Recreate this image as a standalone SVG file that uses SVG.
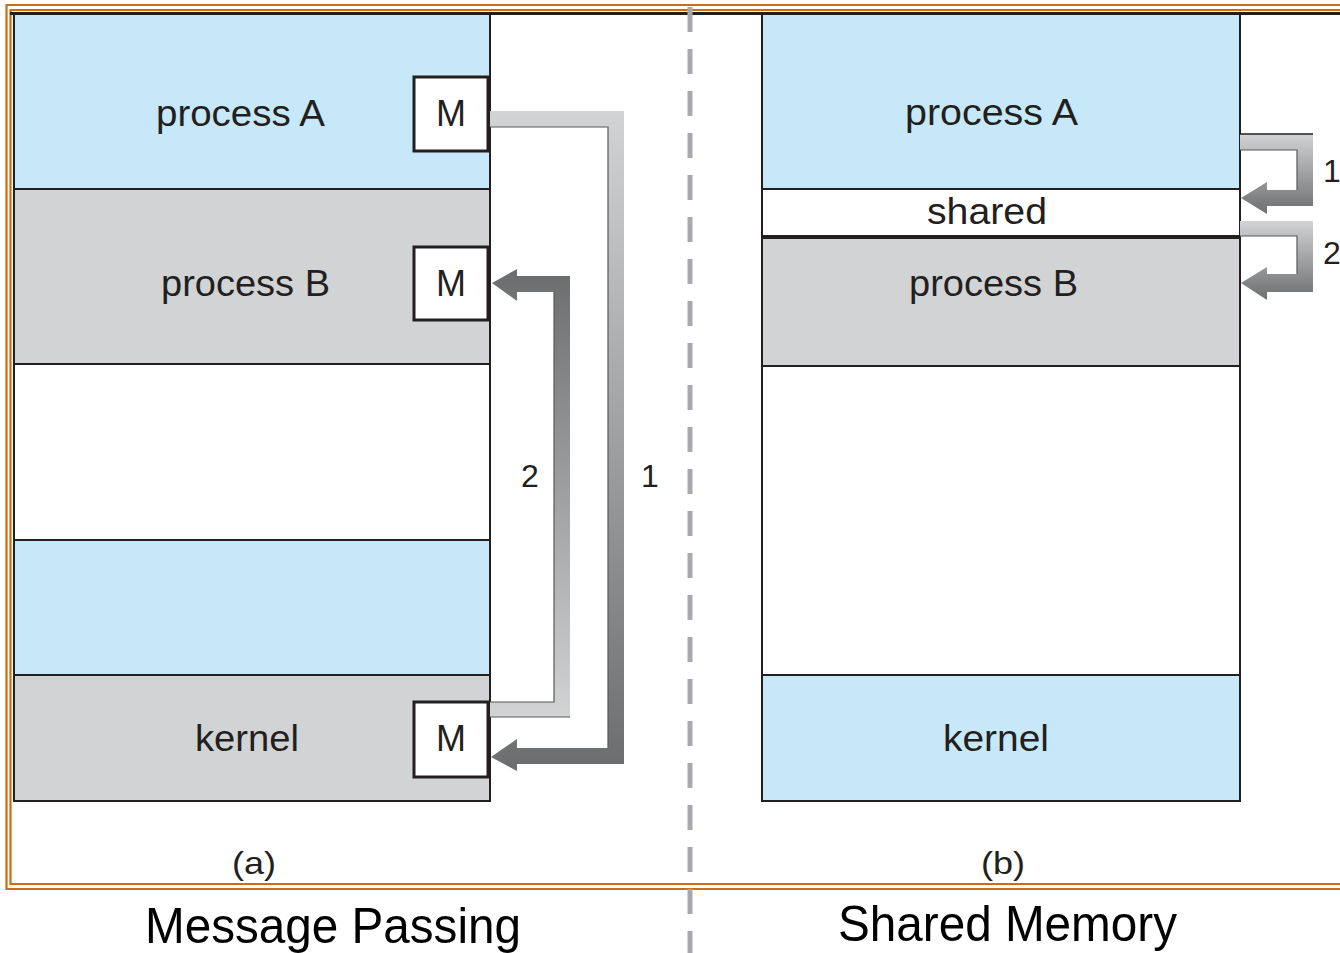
<svg xmlns="http://www.w3.org/2000/svg" width="1340" height="953" viewBox="0 0 1340 953">
<style>
.t{font-family:"Liberation Sans",Arial,sans-serif;fill:#231f20;font-size:36px}
.n{font-family:"Liberation Sans",Arial,sans-serif;fill:#231f20;font-size:32px}
.ttl{font-family:"Liberation Sans",Arial,sans-serif;fill:#000;font-size:50px}
.blue{fill:#c7e8f9;stroke:#231f20;stroke-width:2}
.gray{fill:#d1d3d4;stroke:#231f20;stroke-width:2}
.white{fill:#fff;stroke:#231f20;stroke-width:2}
.mbox{fill:#fff;stroke:#231f20;stroke-width:3}
.edge{fill:none;stroke:#58595b;stroke-width:1.2}
</style>
<defs>
<linearGradient id="g1" gradientUnits="userSpaceOnUse" x1="0" y1="111" x2="0" y2="764">
<stop offset="0" stop-color="#d1d3d4"/><stop offset="1" stop-color="#6d6e70"/>
</linearGradient>
<linearGradient id="g2" gradientUnits="userSpaceOnUse" x1="0" y1="717" x2="0" y2="276">
<stop offset="0" stop-color="#d1d3d4"/><stop offset="1" stop-color="#6d6e70"/>
</linearGradient>
<linearGradient id="g3" gradientUnits="userSpaceOnUse" x1="0" y1="134" x2="0" y2="214">
<stop offset="0" stop-color="#d1d3d4"/><stop offset="1" stop-color="#6d6e70"/>
</linearGradient>
<linearGradient id="g4" gradientUnits="userSpaceOnUse" x1="0" y1="221" x2="0" y2="300">
<stop offset="0" stop-color="#d1d3d4"/><stop offset="1" stop-color="#6d6e70"/>
</linearGradient>
</defs>
<rect width="1340" height="953" fill="#fff"/>
<!-- frame -->
<g id="frame" fill="none" stroke="#d06c0e" stroke-width="2.2">
<polyline points="1345,5 6.5,5 6.5,889 1345,889"/>
<polyline points="1345,10 10.5,10 10.5,884 1345,884"/>
</g>
<line x1="10" y1="13.5" x2="1340" y2="13.5" stroke="#231f20" stroke-width="3"/>

<!-- panel a -->
<g id="a-processA"><rect class="blue" x="14" y="14" width="476" height="175"/><text class="t" x="156" y="126" textLength="169" lengthAdjust="spacingAndGlyphs">process A</text></g>
<g id="a-processB"><rect class="gray" x="14" y="189" width="476" height="175"/><text class="t" x="161" y="296" textLength="169" lengthAdjust="spacingAndGlyphs">process B</text></g>
<g id="a-free"><rect class="white" x="14" y="364" width="476" height="176"/></g>
<g id="a-blue"><rect class="blue" x="14" y="540" width="476" height="135"/></g>
<g id="a-kernel"><rect class="gray" x="14" y="675" width="476" height="126"/><text class="t" x="195" y="751" textLength="104" lengthAdjust="spacingAndGlyphs">kernel</text></g>
<g id="a-mA"><rect class="mbox" x="414" y="77" width="74" height="74"/><text class="t" x="451" y="126" text-anchor="middle">M</text></g>
<g id="a-mB"><rect class="mbox" x="414" y="247" width="74" height="73"/><text class="t" x="451" y="296" text-anchor="middle">M</text></g>
<g id="a-mK"><rect class="mbox" x="414" y="702" width="74" height="75"/><text class="t" x="451" y="751" text-anchor="middle">M</text></g>

<!-- panel b -->
<g id="b-processA"><rect class="blue" x="762" y="14" width="478" height="175"/><text class="t" x="905" y="125" textLength="173" lengthAdjust="spacingAndGlyphs">process A</text></g>
<g id="b-shared"><rect class="white" x="762" y="189" width="478" height="47"/><text class="t" x="927" y="224" textLength="120" lengthAdjust="spacingAndGlyphs">shared</text></g>
<g id="b-processB"><rect class="gray" x="762" y="236" width="478" height="130"/><text class="t" x="909" y="296" textLength="169" lengthAdjust="spacingAndGlyphs">process B</text></g>
<line x1="762" y1="237" x2="1240" y2="237" stroke="#231f20" stroke-width="4"/>
<g id="b-free"><rect class="white" x="762" y="366" width="478" height="309"/></g>
<g id="b-kernel"><rect class="blue" x="762" y="675" width="478" height="126"/><text class="t" x="943" y="751" textLength="106" lengthAdjust="spacingAndGlyphs">kernel</text></g>

<!-- divider -->
<line x1="690" y1="7" x2="690" y2="953" stroke="#a7a9ac" stroke-width="5" stroke-dasharray="25 17"/>

<!-- connectors -->
<g id="connectors">
<polygon fill="url(#g1)" points="490,111 624,111 624,764 517,764 517,771 491,757 517,739 517,748 608,748 608,127 490,127"/>
<polyline class="edge" points="490,127 608,127 608,748"/>
<polygon fill="url(#g2)" points="490,717 570,717 570,276 517,276 517,269 492,283 517,301 517,292 554,292 554,702 490,702"/>
<polyline class="edge" points="490,702 554,702 554,292"/>
<line x1="490" y1="717" x2="570" y2="717" stroke="#58595b" stroke-width="1.2"/>
<polygon fill="url(#g3)" points="1240,134 1313,134 1313,206 1267,206 1267,214 1241,198 1267,182 1267,190 1297,190 1297,150 1240,150"/>
<line x1="1240" y1="134" x2="1313" y2="134" stroke="#231f20" stroke-width="1.5"/>
<polyline class="edge" points="1240,150 1297,150 1297,190"/>
<polygon fill="url(#g4)" points="1240,221 1313,221 1313,292 1267,292 1267,300 1241,283 1267,267 1267,274 1297,274 1297,236 1240,236"/>
<polyline class="edge" points="1240,236 1297,236 1297,274"/>
<text class="n" x="530" y="487" text-anchor="middle">2</text>
<text class="n" x="650" y="487" text-anchor="middle">1</text>
<text class="n" x="1332" y="182" text-anchor="middle">1</text>
<text class="n" x="1332" y="264" text-anchor="middle">2</text>
</g>

<text class="n" x="232" y="874" textLength="44" lengthAdjust="spacingAndGlyphs">(a)</text>
<text class="n" x="981" y="874" textLength="44" lengthAdjust="spacingAndGlyphs">(b)</text>
<text class="ttl" x="145" y="943" textLength="376" lengthAdjust="spacingAndGlyphs">Message Passing</text>
<text class="ttl" x="838" y="941" textLength="339" lengthAdjust="spacingAndGlyphs">Shared Memory</text>
</svg>
